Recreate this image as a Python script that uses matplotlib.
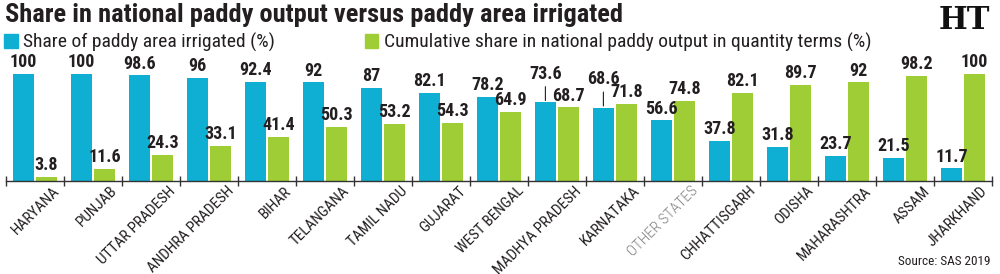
import numpy as np
import matplotlib
matplotlib.use('Agg')
import matplotlib.pyplot as plt
import matplotlib.patches as mpatches

#%% data
states = ['HARYANA', 'PUNJAB', 'UTTAR PRADESH', 'ANDHRA PRADESH', 'BIHAR',
          'TELANGANA', 'TAMIL NADU', 'GUJARAT', 'WEST BENGAL', 'MADHYA PRADESH',
          'KARNATAKA', 'OTHER STATES', 'CHHATTISGARH', 'ODISHA', 'MAHARASHTRA',
          'ASSAM', 'JHARKHAND']
irrigated = [100, 100, 98.6, 96, 92.4, 92, 87, 82.1, 78.2, 73.6, 68.6, 56.6,
             37.8, 31.8, 23.7, 21.5, 11.7]
cumulative = [3.8, 11.6, 24.3, 33.1, 41.4, 50.3, 53.2, 54.3, 64.9, 68.7, 71.8,
              74.8, 82.1, 89.7, 92, 98.2, 100]
raised = ['MADHYA PRADESH', 'KARNATAKA']  # labels lifted with a leader line

blue = '#0eafd3'
green = '#9fcd35'
dark = '#231f20'

plt.rcParams['font.family'] = ['Roboto Condensed', 'DejaVu Sans']

fig = plt.figure(figsize=(10, 2.74), dpi=100)
ax = fig.add_axes([0.006, 1 - 181/274, 0.986, 121/274])

x = np.arange(len(states))
w = 0.36
ax.bar(x + 0.30, irrigated, w, color=blue)
ax.bar(x + 0.70, cumulative, w, color=green)

for i, s in enumerate(states):
    v = irrigated[i]
    if s in raised:
        ax.annotate(f'{v:g}', xy=(x[i] + 0.30, v + 1.5), xytext=(0, 13),
                    textcoords='offset points', ha='center', va='bottom',
                    fontsize=13, fontweight='bold', color=dark,
                    arrowprops=dict(arrowstyle='-', lw=0.8, color=dark,
                                    shrinkA=1, shrinkB=0))
    else:
        ax.annotate(f'{v:g}', xy=(x[i] + 0.30, v), xytext=(0, 2),
                    textcoords='offset points', ha='center', va='bottom',
                    fontsize=13, fontweight='bold', color=dark)
    c = cumulative[i]
    ax.annotate(f'{c:g}', xy=(x[i] + 0.70, c), xytext=(0, 2),
                textcoords='offset points', ha='center', va='bottom',
                fontsize=13, fontweight='bold', color=dark)

ax.set_xlim(0, len(states))
ax.set_ylim(0, 113)
for sp in ['top', 'left', 'right']:
    ax.spines[sp].set_visible(False)
ax.spines['bottom'].set_color('#333333')
ax.spines['bottom'].set_linewidth(1.0)
ax.set_yticks([])
ax.set_xticks(np.arange(len(states) + 1))
ax.set_xticklabels([])
ax.tick_params(axis='x', which='major', direction='inout', length=7,
               color='#333333', width=1)
ax.set_xticks(x + 0.80, minor=True)
ax.set_xticklabels(states, minor=True, rotation=45, ha='right', va='top',
                   rotation_mode='anchor', fontsize=11, color=dark)
ax.tick_params(axis='x', which='minor', length=0, pad=2)
for lab in ax.get_xticklabels(minor=True):
    if lab.get_text() == 'OTHER STATES':
        lab.set_color('#808080')
        lab.set_fontweight('light')

fig.text(0.005, 0.945, 'Share in national paddy output versus paddy area irrigated',
         fontsize=19, fontweight='bold', color=dark, va='center', ha='left')

handles = [mpatches.Patch(color=blue, label='Share of paddy area irrigated (%)'),
           mpatches.Patch(color=green,
                          label='Cumulative share in national paddy output in quantity terms (%)')]
fig.legend(handles=handles, loc='center left', bbox_to_anchor=(0.0, 0.845),
           ncol=2, frameon=False, fontsize=14, handlelength=0.7,
           handleheight=0.7, handletextpad=0.3, columnspacing=4.6,
           labelcolor=dark, borderaxespad=0, borderpad=0.2)

fig.text(0.99, 0.925, 'HT', fontsize=22, fontweight='bold', family='DejaVu Serif',
         color='#111111', ha='right', va='center')
fig.text(0.99, 0.045, 'Source: SAS 2019', fontsize=9.5, color=dark,
         ha='right', va='center')

fig.savefig('out.png', dpi=100)
